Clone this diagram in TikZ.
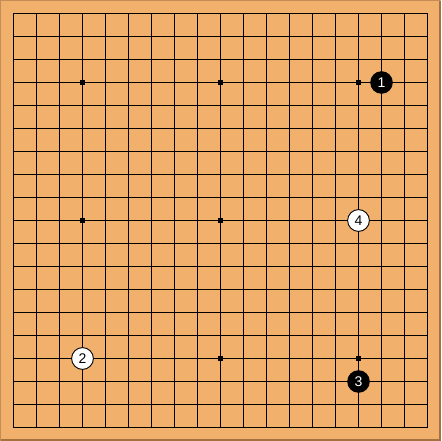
\documentclass[tikz,border=0pt]{standalone}
\usepackage{fontspec}
\setsansfont{Liberation Sans}
\usepackage{xcolor}
\usepackage{tikz}
\definecolor{boardwood}{HTML}{F2B06D}
\definecolor{boardedge}{HTML}{C58D55}
\definecolor{boardshade}{HTML}{A4713F}
\tikzstyle{gridline} = [line width=1pt, black]
\tikzstyle{blackstone} = [circle, fill=black, minimum size=22.6pt, inner sep=0pt, text=white, font=\sffamily\fontsize{14}{14}\selectfont]
\tikzstyle{whitestone} = [circle, draw=black, line width=0.9pt, fill=white, minimum size=21.8pt, inner sep=0pt, text=black, font=\sffamily\fontsize{14}{14}\selectfont]

\begin{document}
\begin{tikzpicture}[x=23pt, y=-23pt]
    % board
    \useasboundingbox (-0.587,-0.587) rectangle (18.587,18.587);
    \fill[boardwood] (-0.587,-0.587) rectangle (18.587,18.587);
    \draw[boardedge, line width=1.5pt] (-0.587,18.55) -- (-0.555,18.55) -- (-0.555,-0.555) -- (18.55,-0.555);
    \draw[boardshade, line width=2pt] (-0.555,18.543) -- (18.543,18.543) -- (18.543,-0.555);

    % lines
    \foreach \k in {0,...,18} {
        \draw[gridline] (\k,0) -- (\k,18);
        \draw[gridline] (0,\k) -- (18,\k);
    }
    \foreach \i in {3,9,15}
        \foreach \j in {3,9,15}
            \fill (\i,\j) ++(-2.5pt,-2.5pt) rectangle ++(5pt,5pt);

    % stones
    \node[blackstone] (move1) at (16,3) {1};
    \node[whitestone] (move2) at (3,15) {2};
    \node[blackstone] (move3) at (15,16) {3};
    \node[whitestone] (move4) at (15,9) {4};
\end{tikzpicture}
\end{document}
